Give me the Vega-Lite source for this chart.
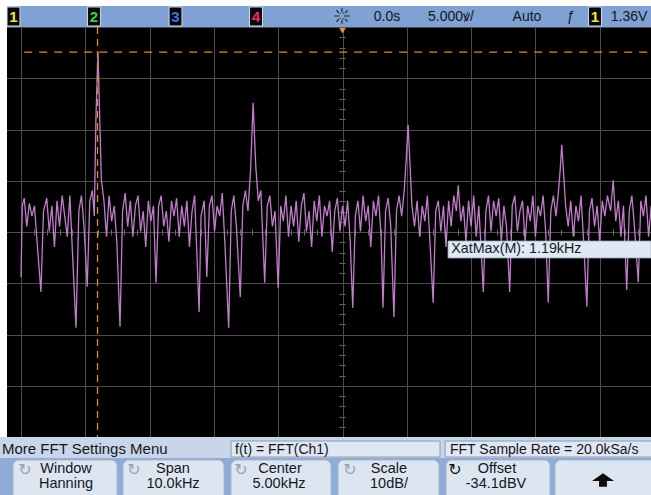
{
  "$schema": "https://vega.github.io/schema/vega-lite/v6.json",
  "background": "#ffffff",
  "padding": 0,
  "spacing": 0,
  "bounds": "flush",
  "resolve": {"scale": {"x": "independent", "y": "independent", "color": "independent"}},
  "config": {"view": {"stroke": null}, "font": "Liberation Sans", "axis": {"title": null}},
  "datasets": {
    "trace": [
      {"f":0,"v":-42.9},{"f":0.02,"v":-29},{"f":0.05,"v":-27.5},{"f":0.09,"v":-33},{"f":0.13,"v":-28.5},{"f":0.17,"v":-31},{"f":0.21,"v":-29},{"f":0.25,"v":-36},{"f":0.31,"v":-45.8},{"f":0.35,"v":-30},
      {"f":0.4,"v":-27.5},{"f":0.44,"v":-34},{"f":0.48,"v":-29},{"f":0.52,"v":-37},{"f":0.56,"v":-28},{"f":0.6,"v":-33},{"f":0.64,"v":-27},{"f":0.68,"v":-31},{"f":0.72,"v":-35},{"f":0.76,"v":-27},
      {"f":0.8,"v":-38},{"f":0.855,"v":-52.8},{"f":0.9,"v":-30},{"f":0.94,"v":-27},{"f":0.98,"v":-33},{"f":1.03,"v":-44.8},{"f":1.07,"v":-28},{"f":1.11,"v":-26},{"f":1.14,"v":-31},{"f":1.165,"v":-12},
      {"f":1.1975,"v":1.0},{"f":1.22,"v":-10},{"f":1.25,"v":-24},{"f":1.29,"v":-28},{"f":1.33,"v":-35},{"f":1.37,"v":-27},{"f":1.41,"v":-32},{"f":1.45,"v":-29},{"f":1.49,"v":-36},{"f":1.54,"v":-52.6},
      {"f":1.58,"v":-30},{"f":1.62,"v":-26.5},{"f":1.66,"v":-33},{"f":1.7,"v":-28},{"f":1.74,"v":-35},{"f":1.78,"v":-29},{"f":1.82,"v":-27},{"f":1.86,"v":-34},{"f":1.9,"v":-30},{"f":1.94,"v":-37},
      {"f":1.98,"v":-28},{"f":2.02,"v":-32},{"f":2.06,"v":-29},{"f":2.1,"v":-44},{"f":2.14,"v":-29},{"f":2.18,"v":-27},{"f":2.22,"v":-33},{"f":2.26,"v":-30},{"f":2.3,"v":-36},{"f":2.34,"v":-28},
      {"f":2.38,"v":-31},{"f":2.42,"v":-27.5},{"f":2.46,"v":-35},{"f":2.5,"v":-29},{"f":2.54,"v":-33},{"f":2.58,"v":-28},{"f":2.62,"v":-37},{"f":2.66,"v":-30},{"f":2.7,"v":-27},{"f":2.77,"v":-49.7},
      {"f":2.8,"v":-31},{"f":2.85,"v":-28},{"f":2.89,"v":-42.9},{"f":2.93,"v":-29},{"f":2.97,"v":-27},{"f":3.01,"v":-34},{"f":3.05,"v":-29},{"f":3.09,"v":-31},{"f":3.13,"v":-26.5},{"f":3.17,"v":-36},
      {"f":3.23,"v":-52.8},{"f":3.27,"v":-30},{"f":3.31,"v":-27},{"f":3.35,"v":-33},{"f":3.41,"v":-46.8},{"f":3.45,"v":-29},{"f":3.49,"v":-26},{"f":3.53,"v":-30},{"f":3.57,"v":-22},{"f":3.61,"v":-8.9},
      {"f":3.65,"v":-21},{"f":3.69,"v":-28},{"f":3.73,"v":-26},{"f":3.79,"v":-44},{"f":3.83,"v":-29},{"f":3.87,"v":-27},{"f":3.91,"v":-33},{"f":3.95,"v":-30},{"f":4.0,"v":-45},{"f":4.04,"v":-29},
      {"f":4.08,"v":-32},{"f":4.12,"v":-27},{"f":4.16,"v":-35},{"f":4.2,"v":-29},{"f":4.24,"v":-33},{"f":4.28,"v":-28},{"f":4.32,"v":-36},{"f":4.36,"v":-29},{"f":4.4,"v":-26.5},{"f":4.44,"v":-34},
      {"f":4.48,"v":-30},{"f":4.52,"v":-37},{"f":4.56,"v":-28},{"f":4.6,"v":-32},{"f":4.64,"v":-27},{"f":4.68,"v":-35},{"f":4.72,"v":-29},{"f":4.76,"v":-31},{"f":4.8,"v":-28},{"f":4.84,"v":-38},
      {"f":4.88,"v":-30},{"f":4.92,"v":-27.5},{"f":4.96,"v":-34},{"f":5.0,"v":-29},{"f":5.04,"v":-33},{"f":5.08,"v":-28},{"f":5.12,"v":-36},{"f":5.16,"v":-48.9},{"f":5.2,"v":-31},{"f":5.24,"v":-28},
      {"f":5.28,"v":-34},{"f":5.32,"v":-27},{"f":5.36,"v":-32},{"f":5.4,"v":-29},{"f":5.44,"v":-37},{"f":5.48,"v":-28},{"f":5.52,"v":-31},{"f":5.56,"v":-27},{"f":5.6,"v":-35},{"f":5.63,"v":-48.9},
      {"f":5.67,"v":-30},{"f":5.71,"v":-27.5},{"f":5.75,"v":-33},{"f":5.8,"v":-50.7},{"f":5.84,"v":-30},{"f":5.88,"v":-27},{"f":5.92,"v":-31},{"f":5.96,"v":-26},{"f":5.99,"v":-20},{"f":6.02,"v":-13.2},
      {"f":6.05,"v":-21},{"f":6.08,"v":-29},{"f":6.12,"v":-33},{"f":6.16,"v":-28},{"f":6.2,"v":-35},{"f":6.24,"v":-29},{"f":6.28,"v":-32},{"f":6.32,"v":-27},{"f":6.36,"v":-36},{"f":6.41,"v":-47.9},
      {"f":6.45,"v":-30},{"f":6.49,"v":-28},{"f":6.53,"v":-34},{"f":6.57,"v":-29},{"f":6.61,"v":-37},{"f":6.65,"v":-28},{"f":6.69,"v":-33},{"f":6.73,"v":-27},{"f":6.77,"v":-30},{"f":6.8,"v":-25},
      {"f":6.84,"v":-32},{"f":6.88,"v":-29},{"f":6.92,"v":-36},{"f":6.96,"v":-28},{"f":7.0,"v":-33},{"f":7.04,"v":-27},{"f":7.08,"v":-35},{"f":7.12,"v":-29},{"f":7.19,"v":-45.8},{"f":7.23,"v":-30},
      {"f":7.27,"v":-27},{"f":7.31,"v":-34},{"f":7.35,"v":-28},{"f":7.39,"v":-31},{"f":7.43,"v":-27.5},{"f":7.47,"v":-36},{"f":7.51,"v":-29},{"f":7.55,"v":-33},{"f":7.6,"v":-45.8},{"f":7.64,"v":-29},
      {"f":7.68,"v":-27},{"f":7.72,"v":-34},{"f":7.76,"v":-30},{"f":7.8,"v":-28},{"f":7.84,"v":-36},{"f":7.88,"v":-29},{"f":7.92,"v":-32},{"f":7.96,"v":-27},{"f":8.0,"v":-35},{"f":8.04,"v":-29},
      {"f":8.08,"v":-31},{"f":8.12,"v":-27},{"f":8.16,"v":-34},{"f":8.2,"v":-47.9},{"f":8.24,"v":-30},{"f":8.28,"v":-27},{"f":8.32,"v":-31},{"f":8.36,"v":-26},{"f":8.385,"v":-22},{"f":8.41,"v":-17.1},
      {"f":8.44,"v":-23},{"f":8.47,"v":-29},{"f":8.51,"v":-33},{"f":8.55,"v":-28},{"f":8.59,"v":-35},{"f":8.63,"v":-29},{"f":8.67,"v":-32},{"f":8.71,"v":-27},{"f":8.75,"v":-36},{"f":8.8,"v":-48.7},
      {"f":8.84,"v":-30},{"f":8.88,"v":-27.5},{"f":8.92,"v":-33},{"f":8.96,"v":-29},{"f":9.0,"v":-36},{"f":9.04,"v":-28},{"f":9.08,"v":-31},{"f":9.12,"v":-27},{"f":9.17,"v":-30},{"f":9.21,"v":-24},
      {"f":9.25,"v":-32},{"f":9.29,"v":-28},{"f":9.33,"v":-35},{"f":9.37,"v":-29},{"f":9.42,"v":-45.4},{"f":9.46,"v":-30},{"f":9.5,"v":-27},{"f":9.54,"v":-33},{"f":9.6,"v":-43.9},{"f":9.64,"v":-28},
      {"f":9.68,"v":-31},{"f":9.72,"v":-27},{"f":9.76,"v":-35},{"f":9.8,"v":-29}
    ],
    "badges": [{"ch":"1","x":13.5},{"ch":"2","x":94},{"ch":"3","x":175.5},{"ch":"4","x":256},{"ch":"1","x":595}],
    "hdr": [{"t":"0.0s","x":387},{"t":"5.000ꝟ/","x":451},{"t":"Auto","x":527},{"t":"ƒ","x":571},{"t":"1.36V","x":629}],
    "boxes": [{"x0":231,"x1":440},{"x0":445,"x1":660}],
    "row1": [{"t":"More FFT Settings Menu","x":2,"s":"big"},{"t":"f(t) = FFT(Ch1)","x":235,"s":"std"},{"t":"FFT Sample Rate = 20.0kSa/s","x":450,"s":"std"}],
    "buttons": [{"b":"Window","x0":13,"x1":117},{"b":"Span","x0":123,"x1":224},{"b":"Center","x0":231,"x1":331},{"b":"Scale","x0":338,"x1":439},{"b":"Offset","x0":446,"x1":550},{"b":"Arrow","x0":555,"x1":665}],
    "btnText": [{"t":"Window","x":66,"line":1},{"t":"Hanning","x":66,"line":2},{"t":"Span","x":173,"line":1},{"t":"10.0kHz","x":173,"line":2},{"t":"Center","x":280,"line":1},{"t":"5.00kHz","x":279,"line":2},{"t":"Scale","x":389,"line":1},{"t":"10dB/","x":389,"line":2},{"t":"Offset","x":497,"line":1},{"t":"-34.1dBV","x":496,"line":2}],
    "icons": [{"x":25,"k":"idle"},{"x":134,"k":"idle"},{"x":241,"k":"idle"},{"x":350,"k":"idle"},{"x":455,"k":"active"}]
  },
  "vconcat": [
    {
      "width": 651, "height": 27,
      "data": {"values": [{}]},
      "view": {"fill": "#ffffff", "stroke": null},
      "layer": [
        {"mark": {"type": "rect", "color": "#7fa1d3"},
         "encoding": {"x": {"datum": 7, "type": "quantitative", "scale": {"domain": [0, 651], "nice": false, "zero": false}, "axis": null}, "x2": {"datum": 651},
                      "y": {"datum": 6, "type": "quantitative", "scale": {"domain": [0, 27], "reverse": true, "nice": false, "zero": false}, "axis": null}, "y2": {"datum": 27}}},
        {"data": {"name": "badges"},
         "mark": {"type": "point", "shape": "M-0.68,-1H0.68V1H-0.68Z", "filled": true, "fill": "#080808", "stroke": "#d4dae4", "strokeWidth": 1, "size": 361, "opacity": 1},
         "encoding": {"x": {"field": "x", "type": "quantitative", "scale": {"domain": [0, 651], "nice": false, "zero": false}, "axis": null},
                      "y": {"datum": 16.5, "type": "quantitative", "scale": {"domain": [0, 27], "reverse": true, "nice": false, "zero": false}, "axis": null}}},
        {"data": {"name": "badges"},
         "mark": {"type": "text", "fontSize": 15, "fontWeight": "bold", "align": "center", "baseline": "middle"},
         "encoding": {"x": {"field": "x", "type": "quantitative", "scale": {"domain": [0, 651], "nice": false, "zero": false}, "axis": null},
                      "y": {"datum": 17, "type": "quantitative", "scale": {"domain": [0, 27], "reverse": true, "nice": false, "zero": false}, "axis": null},
                      "text": {"field": "ch"},
                      "color": {"field": "ch", "type": "nominal", "scale": {"domain": ["1", "2", "3", "4"], "range": ["#eeea3c", "#38d23a", "#3f72ea", "#f0286e"]}, "legend": null}}},
        {"mark": {"type": "point", "shape": "M-1,0H-0.55M0.55,0H1M0,-1V-0.55M0,0.55V1M-0.72,-0.72L-0.4,-0.4M0.4,0.4L0.72,0.72M-0.72,0.72L-0.4,0.4M0.4,-0.4L0.72,-0.72", "filled": false, "stroke": "#1c1c1c", "strokeWidth": 1.2, "size": 240, "opacity": 1},
         "encoding": {"x": {"datum": 342, "type": "quantitative", "scale": {"domain": [0, 651], "nice": false, "zero": false}, "axis": null},
                      "y": {"datum": 16, "type": "quantitative", "scale": {"domain": [0, 27], "reverse": true, "nice": false, "zero": false}, "axis": null}}},
        {"mark": {"type": "point", "shape": "circle", "filled": false, "stroke": "#1c1c1c", "strokeWidth": 1, "strokeDash": [1.5, 1.5], "size": 40, "opacity": 1},
         "encoding": {"x": {"datum": 342, "type": "quantitative", "scale": {"domain": [0, 651], "nice": false, "zero": false}, "axis": null},
                      "y": {"datum": 16, "type": "quantitative", "scale": {"domain": [0, 27], "reverse": true, "nice": false, "zero": false}, "axis": null}}},
        {"data": {"name": "hdr"},
         "mark": {"type": "text", "fontSize": 14, "align": "center", "baseline": "middle", "color": "#15151c"},
         "encoding": {"x": {"field": "x", "type": "quantitative", "scale": {"domain": [0, 651], "nice": false, "zero": false}, "axis": null},
                      "y": {"datum": 17, "type": "quantitative", "scale": {"domain": [0, 27], "reverse": true, "nice": false, "zero": false}, "axis": null},
                      "text": {"field": "t"}}}
      ]
    },
    {
      "width": 651, "height": 410,
      "data": {"values": [{}]},
      "view": {"fill": "#000000", "stroke": null},
      "resolve": {"axis": {"x": "independent", "y": "independent"}},
      "layer": [
        {"mark": {"type": "rect", "color": "#ffffff"},
         "encoding": {"x": {"datum": -0.3266, "type": "quantitative", "scale": {"domain": [-0.3266, 9.7978], "nice": false, "zero": false}, "axis": null}, "x2": {"datum": -0.2177},
                      "y": {"datum": -74.1, "type": "quantitative", "scale": {"domain": [-74.1, 5.9], "nice": false, "zero": false}, "axis": null}, "y2": {"datum": 5.9}}},
        {"mark": {"type": "point", "opacity": 0},
         "encoding": {"x": {"datum": 5, "type": "quantitative", "scale": {"domain": [-0.3266, 9.7978], "nice": false, "zero": false}, "axis": null},
                      "y": {"datum": -34.1, "type": "quantitative", "scale": {"domain": [-74.1, 5.9], "nice": false, "zero": false},
                            "axis": {"orient": "left", "offset": -342, "values": [-72.1,-70.1,-68.1,-66.1,-62.1,-60.1,-58.1,-56.1,-52.1,-50.1,-48.1,-46.1,-42.1,-40.1,-38.1,-36.1,-32.1,-30.1,-28.1,-26.1,-22.1,-20.1,-18.1,-16.1,-12.1,-10.1,-8.1,-6.1,-2.1,-0.1,1.9,3.9], "domain": false, "labels": false, "grid": false, "ticks": true, "tickSize": 3, "tickColor": "#6a6a6a", "tickWidth": 1, "title": null}}}},
        {"mark": {"type": "point", "opacity": 0},
         "encoding": {"x": {"datum": 5, "type": "quantitative", "scale": {"domain": [-0.3266, 9.7978], "nice": false, "zero": false}, "axis": null},
                      "y": {"datum": -34.1, "type": "quantitative", "scale": {"domain": [-74.1, 5.9], "nice": false, "zero": false},
                            "axis": {"orient": "right", "offset": -309, "values": [-72.1,-70.1,-68.1,-66.1,-62.1,-60.1,-58.1,-56.1,-52.1,-50.1,-48.1,-46.1,-42.1,-40.1,-38.1,-36.1,-32.1,-30.1,-28.1,-26.1,-22.1,-20.1,-18.1,-16.1,-12.1,-10.1,-8.1,-6.1,-2.1,-0.1,1.9,3.9], "domain": false, "labels": false, "grid": false, "ticks": true, "tickSize": 3, "tickColor": "#6a6a6a", "tickWidth": 1, "title": null}}}},
        {"mark": {"type": "point", "opacity": 0},
         "encoding": {"x": {"datum": 5, "type": "quantitative", "scale": {"domain": [-0.3266, 9.7978], "nice": false, "zero": false},
                            "axis": {"orient": "bottom", "offset": -205, "values": [0.2,0.4,0.6,0.8,1.2,1.4,1.6,1.8,2.2,2.4,2.6,2.8,3.2,3.4,3.6,3.8,4.2,4.4,4.6,4.8,5.2,5.4,5.6,5.8,6.2,6.4,6.6,6.8,7.2,7.4,7.6,7.8,8.2,8.4,8.6,8.8,9.2,9.4,9.6], "domain": false, "labels": false, "grid": false, "ticks": true, "tickSize": 3, "tickColor": "#6a6a6a", "tickWidth": 1, "title": null}},
                      "y": {"datum": -34.1, "type": "quantitative", "scale": {"domain": [-74.1, 5.9], "nice": false, "zero": false}, "axis": null}}},
        {"mark": {"type": "point", "opacity": 0},
         "encoding": {"x": {"datum": 5, "type": "quantitative", "scale": {"domain": [-0.3266, 9.7978], "nice": false, "zero": false},
                            "axis": {"orient": "top", "offset": -205, "values": [0.2,0.4,0.6,0.8,1.2,1.4,1.6,1.8,2.2,2.4,2.6,2.8,3.2,3.4,3.6,3.8,4.2,4.4,4.6,4.8,5.2,5.4,5.6,5.8,6.2,6.4,6.6,6.8,7.2,7.4,7.6,7.8,8.2,8.4,8.6,8.8,9.2,9.4,9.6], "domain": false, "labels": false, "grid": false, "ticks": true, "tickSize": 3, "tickColor": "#6a6a6a", "tickWidth": 1, "title": null}},
                      "y": {"datum": -34.1, "type": "quantitative", "scale": {"domain": [-74.1, 5.9], "nice": false, "zero": false}, "axis": null}}},
        {"data": {"name": "trace"},
         "mark": {"type": "line", "color": "#c27ccb", "strokeWidth": 1.3, "clip": true},
         "encoding": {"x": {"field": "f", "type": "quantitative", "scale": {"domain": [-0.3266, 9.7978], "nice": false, "zero": false},
                            "axis": {"orient": "bottom", "values": [0,1,2,3,4,5,6,7,8,9], "grid": true, "gridColor": "#4c4c4c", "gridOpacity": 1, "gridWidth": 1, "domain": false, "ticks": false, "labels": false, "title": null}},
                      "y": {"field": "v", "type": "quantitative", "scale": {"domain": [-74.1, 5.9], "nice": false, "zero": false},
                            "axis": {"orient": "left", "values": [-74.1,-64.1,-54.1,-44.1,-34.1,-24.1,-14.1,-4.1,5.9], "grid": true, "gridColor": "#4c4c4c", "gridOpacity": 1, "gridWidth": 1, "domain": false, "ticks": false, "labels": false, "title": null}}}},
        {"mark": {"type": "rule", "color": "#e08a2e", "strokeWidth": 1.3, "strokeDash": [7, 5]},
         "encoding": {"x": {"datum": 1.19, "type": "quantitative", "scale": {"domain": [-0.3266, 9.7978], "nice": false, "zero": false}, "axis": null}}},
        {"mark": {"type": "rule", "color": "#e08a2e", "strokeWidth": 1.3, "strokeDash": [8, 7]},
         "encoding": {"x": {"datum": 0.05, "type": "quantitative", "scale": {"domain": [-0.3266, 9.7978], "nice": false, "zero": false}, "axis": null}, "x2": {"datum": 9.7978},
                      "y": {"datum": 1.0, "type": "quantitative", "scale": {"domain": [-74.1, 5.9], "nice": false, "zero": false}, "axis": null}}},
        {"mark": {"type": "point", "shape": "triangle-down", "filled": true, "color": "#f0922a", "size": 45, "opacity": 1},
         "encoding": {"x": {"datum": 5.0, "type": "quantitative", "scale": {"domain": [-0.3266, 9.7978], "nice": false, "zero": false}, "axis": null},
                      "y": {"datum": 5.2, "type": "quantitative", "scale": {"domain": [-74.1, 5.9], "nice": false, "zero": false}, "axis": null}}},
        {"mark": {"type": "rect", "color": "#dfe8f5", "stroke": "#9aa8bc", "strokeWidth": 0.8},
         "encoding": {"x": {"datum": 6.641, "type": "quantitative", "scale": {"domain": [-0.3266, 9.7978], "nice": false, "zero": false}, "axis": null}, "x2": {"datum": 9.7978},
                      "y": {"datum": -35.86, "type": "quantitative", "scale": {"domain": [-74.1, 5.9], "nice": false, "zero": false}, "axis": null}, "y2": {"datum": -39.17}}},
        {"mark": {"type": "text", "text": "XatMax(M): 1.19kHz", "fontSize": 14.3, "align": "left", "baseline": "middle", "color": "#1a1a1a"},
         "encoding": {"x": {"datum": 6.69, "type": "quantitative", "scale": {"domain": [-0.3266, 9.7978], "nice": false, "zero": false}, "axis": null},
                      "y": {"datum": -37.5, "type": "quantitative", "scale": {"domain": [-74.1, 5.9], "nice": false, "zero": false}, "axis": null}}}
      ]
    },
    {
      "width": 651, "height": 58,
      "data": {"values": [{}]},
      "view": {"fill": "#8eacd8", "stroke": null},
      "layer": [
        {"mark": {"type": "rect", "color": "#c9d6ea"},
         "encoding": {"x": {"datum": 0, "type": "quantitative", "scale": {"domain": [0, 651], "nice": false, "zero": false}, "axis": null}, "x2": {"datum": 651},
                      "y": {"datum": 0, "type": "quantitative", "scale": {"domain": [0, 58], "reverse": true, "nice": false, "zero": false}, "axis": null}, "y2": {"datum": 21}}},
        {"data": {"name": "boxes"},
         "mark": {"type": "rect", "color": "#dfe7f3", "stroke": "#8e9aac", "strokeWidth": 1, "clip": true},
         "encoding": {"x": {"field": "x0", "type": "quantitative", "scale": {"domain": [0, 651], "nice": false, "zero": false}, "axis": null}, "x2": {"field": "x1"},
                      "y": {"datum": 4, "type": "quantitative", "scale": {"domain": [0, 58], "reverse": true, "nice": false, "zero": false}, "axis": null}, "y2": {"datum": 20}}},
        {"data": {"name": "row1"},
         "transform": [{"filter": "datum.s == 'big'"}],
         "mark": {"type": "text", "fontSize": 15, "align": "left", "baseline": "middle", "color": "#15151c"},
         "encoding": {"x": {"field": "x", "type": "quantitative", "scale": {"domain": [0, 651], "nice": false, "zero": false}, "axis": null},
                      "y": {"datum": 12, "type": "quantitative", "scale": {"domain": [0, 58], "reverse": true, "nice": false, "zero": false}, "axis": null},
                      "text": {"field": "t"}}},
        {"data": {"name": "row1"},
         "transform": [{"filter": "datum.s == 'std'"}],
         "mark": {"type": "text", "fontSize": 14, "align": "left", "baseline": "middle", "color": "#15151c"},
         "encoding": {"x": {"field": "x", "type": "quantitative", "scale": {"domain": [0, 651], "nice": false, "zero": false}, "axis": null},
                      "y": {"datum": 12.5, "type": "quantitative", "scale": {"domain": [0, 58], "reverse": true, "nice": false, "zero": false}, "axis": null},
                      "text": {"field": "t"}}},
        {"data": {"name": "buttons"},
         "mark": {"type": "rect", "color": "#dde5f1", "stroke": "#aab6c8", "strokeWidth": 1, "cornerRadius": 6, "clip": true},
         "encoding": {"x": {"field": "x0", "type": "quantitative", "scale": {"domain": [0, 651], "nice": false, "zero": false}, "axis": null}, "x2": {"field": "x1"},
                      "y": {"datum": 23, "type": "quantitative", "scale": {"domain": [0, 58], "reverse": true, "nice": false, "zero": false}, "axis": null}, "y2": {"datum": 66}}},
        {"data": {"name": "icons"},
         "mark": {"type": "text", "text": "↻", "fontSize": 16, "font": "DejaVu Sans", "align": "center", "baseline": "middle"},
         "encoding": {"x": {"field": "x", "type": "quantitative", "scale": {"domain": [0, 651], "nice": false, "zero": false}, "axis": null},
                      "y": {"datum": 33, "type": "quantitative", "scale": {"domain": [0, 58], "reverse": true, "nice": false, "zero": false}, "axis": null},
                      "color": {"field": "k", "type": "nominal", "scale": {"domain": ["idle", "active"], "range": ["#98a2b0", "#111111"]}, "legend": null}}},
        {"data": {"name": "btnText"},
         "transform": [{"filter": "datum.line == 1"}],
         "mark": {"type": "text", "fontSize": 14.5, "align": "center", "baseline": "alphabetic", "color": "#15151c"},
         "encoding": {"x": {"field": "x", "type": "quantitative", "scale": {"domain": [0, 651], "nice": false, "zero": false}, "axis": null},
                      "y": {"datum": 35.5, "type": "quantitative", "scale": {"domain": [0, 58], "reverse": true, "nice": false, "zero": false}, "axis": null},
                      "text": {"field": "t"}}},
        {"data": {"name": "btnText"},
         "transform": [{"filter": "datum.line == 2"}],
         "mark": {"type": "text", "fontSize": 14.5, "align": "center", "baseline": "alphabetic", "color": "#15151c"},
         "encoding": {"x": {"field": "x", "type": "quantitative", "scale": {"domain": [0, 651], "nice": false, "zero": false}, "axis": null},
                      "y": {"datum": 50.5, "type": "quantitative", "scale": {"domain": [0, 58], "reverse": true, "nice": false, "zero": false}, "axis": null},
                      "text": {"field": "t"}}},
        {"mark": {"type": "point", "shape": "M-1,0.1L0,-0.62L1,0.1H0.36V0.62H-0.36V0.1Z", "filled": true, "color": "#0c0c0c", "size": 484, "opacity": 1},
         "encoding": {"x": {"datum": 603, "type": "quantitative", "scale": {"domain": [0, 651], "nice": false, "zero": false}, "axis": null},
                      "y": {"datum": 43, "type": "quantitative", "scale": {"domain": [0, 58], "reverse": true, "nice": false, "zero": false}, "axis": null}}}
      ]
    }
  ]
}
